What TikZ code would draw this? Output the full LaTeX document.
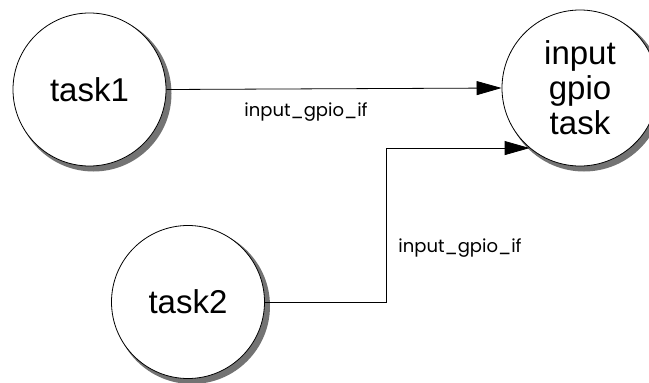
\documentclass[tikz,border=0pt]{standalone}
\usepackage{fontspec}
\setmainfont{Liberation Sans}
\newfontfamily\labelfont{Poppins}
\usetikzlibrary{arrows.meta}
\tikzset{
  task/.style={circle, draw=black, line width=0.8pt, fill=white,
    minimum size=#1, inner sep=0pt, align=center,
    font=\fontsize{33}{35}\selectfont},
  taskshadow/.style={fill=black!55},
  flow/.style={line width=0.8pt, -{Triangle[length=25pt, width=14pt]}},
  iflabel/.style={font=\labelfont\fontsize{18}{20}\selectfont, inner sep=0pt}
}
\begin{document}
\begin{tikzpicture}[x=1pt, y=-1pt]
  \fill[white] (0,0) rectangle (649,383);
  \clip (0,0) rectangle (649,383);

  % shadows of the process circles, offset to the lower right
  \fill[taskshadow] (93.5,93.5) circle (78pt);
  \fill[taskshadow] (192,306) circle (78pt);
  \fill[taskshadow] (584,92) circle (79.5pt);

  % processes
  \node[task=153pt] (task1) at (89.5,89.5) {task1};
  \node[task=153pt] (task2) at (188,302) {task2};
  \node[task=156pt] (gpio) at (580,88) {input\\gpio\\task};

  % interface calls
  \coordinate (bend) at (386,302);
  \draw[flow] (task1.east) -- (gpio.west);
  \draw[flow] (task2.east) -| (bend |- gpio.230) -- (gpio.230);

  \node[iflabel] (lbl1) at (306,112) {input\_gpio\_if};
  \node[iflabel] (lbl2) at (460,248) {input\_gpio\_if};
\end{tikzpicture}
\end{document}
